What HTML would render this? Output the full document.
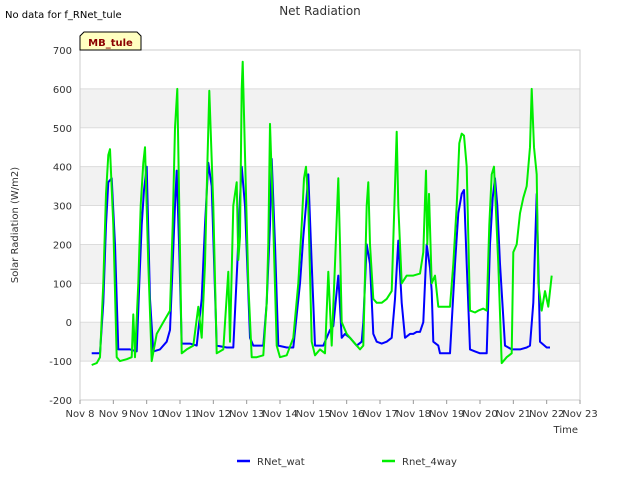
<!DOCTYPE html>
<html><head><meta charset="utf-8"><style>
body{margin:0;background:#fff;font-family:"DejaVu Sans",sans-serif;}
svg text{font-family:"DejaVu Sans",sans-serif;}
</style></head><body>
<svg id="c" width="640" height="480" xmlns="http://www.w3.org/2000/svg">
<rect width="640" height="480" fill="#fff"/>
<text x="5" y="18" font-size="10" fill="#000">No data for f_RNet_tule</text>
<text x="320" y="15" font-size="12" fill="#333" text-anchor="middle">Net Radiation</text>
<g id="plot"></g>
<text x="18" y="225" font-size="10" fill="#333" text-anchor="middle" transform="rotate(-90 18 225)">Solar Radiation (W/m2)</text>
<text x="578" y="433" font-size="10" fill="#333" text-anchor="end">Time</text>
<g>
<path d="M80,50 L80,36 L84,32 L137,32 L141,36 L141,50 Z" fill="#ffffc0" stroke="#000" stroke-width="1"/>
<text x="110.5" y="46" font-size="10" font-weight="bold" fill="#8b0000" text-anchor="middle">MB_tule</text>
</g>
<g>
<g><line x1="237" y1="461" x2="250" y2="461" stroke="#0000ff" stroke-width="2.5"/><text x="257" y="465" font-size="10" fill="#333">RNet_wat</text></g>
<g><line x1="382" y1="461" x2="395" y2="461" stroke="#00ee00" stroke-width="2.5"/><text x="402" y="465" font-size="10" fill="#333">Rnet_4way</text></g>
</g>
</svg>
<script>
const yTicks=[-200,-100,0,100,200,300,400,500,600,700];
const xTickLabels=["Nov 8","Nov 9","Nov 10","Nov 11","Nov 12","Nov 13","Nov 14","Nov 15","Nov 16","Nov 17","Nov 18","Nov 19","Nov 20","Nov 21","Nov 22","Nov 23"];
const watTimes=[8.35,8.45,8.6,8.7,8.78,8.85,8.95,9.05,9.15,9.3,9.5,9.7,9.78,9.85,9.92,10.0,10.1,10.2,10.4,10.6,10.7,10.78,10.85,10.9,10.98,11.05,11.3,11.5,11.65,11.75,11.85,11.95,12.1,12.4,12.6,12.72,12.8,12.85,12.95,13.1,13.2,13.5,13.6,13.7,13.75,13.85,13.95,14.2,14.4,14.6,14.7,14.78,14.85,14.95,15.05,15.3,15.5,15.6,15.7,15.75,15.85,15.95,16.1,16.3,16.45,16.5,16.6,16.7,16.8,16.9,17.05,17.2,17.35,17.45,17.55,17.65,17.75,17.9,18.0,18.1,18.2,18.3,18.4,18.5,18.55,18.6,18.75,18.8,19.0,19.1,19.25,19.35,19.45,19.52,19.6,19.7,19.85,20.0,20.1,20.2,20.3,20.38,20.45,20.52,20.6,20.75,20.95,21.2,21.4,21.5,21.6,21.7,21.75,21.8,22.0,22.1];
const watValues=[-80,-80,-80,50,250,360,370,200,-70,-70,-70,-75,100,250,340,400,60,-75,-70,-50,-20,150,300,390,180,-55,-55,-60,60,250,410,350,-60,-65,-65,150,320,400,300,-40,-60,-60,50,250,420,200,-60,-65,-65,100,220,300,380,150,-60,-60,-20,-10,80,120,-40,-30,-40,-60,-50,0,200,150,-30,-50,-55,-50,-40,60,210,50,-40,-30,-30,-25,-25,0,200,140,80,-50,-60,-80,-80,-80,150,280,330,340,150,-70,-75,-80,-80,-80,200,320,370,300,150,-60,-70,-70,-65,-60,50,330,150,-50,-65,-65,-65];
const fwTimes=[8.35,8.5,8.6,8.7,8.78,8.85,8.9,9.0,9.1,9.2,9.4,9.55,9.6,9.65,9.75,9.82,9.9,9.95,10.05,10.15,10.3,10.5,10.7,10.78,10.85,10.92,11.05,11.2,11.4,11.55,11.65,11.75,11.82,11.88,12.0,12.1,12.3,12.45,12.5,12.6,12.7,12.75,12.8,12.85,12.88,12.95,13.05,13.15,13.3,13.5,13.6,13.65,13.7,13.78,13.9,14.0,14.2,14.4,14.55,14.65,14.72,14.78,14.85,14.95,15.05,15.2,15.35,15.45,15.55,15.65,15.75,15.8,15.85,16.0,16.2,16.4,16.5,16.6,16.65,16.7,16.8,16.9,17.05,17.2,17.35,17.45,17.5,17.55,17.65,17.8,18.0,18.2,18.3,18.38,18.42,18.47,18.55,18.65,18.75,18.9,19.1,19.2,19.3,19.38,19.45,19.52,19.6,19.7,19.85,19.95,20.1,20.2,20.28,20.35,20.42,20.55,20.65,20.8,20.95,21.0,21.1,21.2,21.3,21.4,21.5,21.55,21.62,21.7,21.75,21.85,21.95,22.05,22.15];
const fwValues=[-110,-105,-90,100,330,430,445,250,-90,-100,-95,-90,20,-90,100,300,410,450,150,-100,-30,0,30,250,500,600,-80,-70,-60,40,-40,150,400,595,300,-80,-70,130,-50,300,360,160,220,600,670,430,100,-90,-90,-85,50,200,510,300,-60,-90,-85,-40,100,250,370,400,300,-50,-85,-70,-80,130,-60,150,370,200,0,-30,-50,-70,-60,300,360,200,60,50,50,60,80,350,490,300,100,120,120,125,180,390,200,330,100,120,40,40,40,150,300,460,485,480,400,30,25,30,35,30,250,380,400,150,-105,-90,-80,180,200,280,320,350,450,600,450,380,100,30,80,40,120];
const NS="http://www.w3.org/2000/svg";
const X0=80,X1=580,Y0=400,Y1=50;
function xs(d){return X0+(d-8)/15*(X1-X0);}
function ys(v){return Y0-(v+200)/900*(Y0-Y1);}
const g=document.getElementById('plot');
function mk(t,a){const e=document.createElementNS(NS,t);for(const k in a)e.setAttribute(k,a[k]);return e;}
for(let i=0;i<yTicks.length-1;i++){
  if(i%2===1){const r=mk('rect',{x:X0,y:ys(yTicks[i+1]),width:X1-X0,height:ys(yTicks[i])-ys(yTicks[i+1]),fill:'#f2f2f2'});
  
  
  g.appendChild(r);}
}
yTicks.forEach(v=>{
  const l=mk('line',{x1:X0,x2:X1,y1:ys(v),y2:ys(v),stroke:'#dcdcdc','stroke-width':1});
  
  
  g.appendChild(l);
  const t=mk('text',{x:X0-8,y:ys(v)+4,'font-size':10,fill:'#333','text-anchor':'end'});
  
  
  t.textContent=v;g.appendChild(t);
});
const fr=mk('rect',{x:X0,y:Y1,width:X1-X0,height:Y0-Y1,fill:'none',stroke:'#ccc','stroke-width':1});


g.appendChild(fr);
xTickLabels.forEach((s,i)=>{
  const x=xs(8+i);
  const tk=mk('line',{x1:x,x2:x,y1:Y0,y2:Y0+4,stroke:'#999'});
  
  
  g.appendChild(tk);
  const t=mk('text',{x:x,y:Y0+17,'font-size':10,fill:'#333','text-anchor':'middle'});
  
  
  t.textContent=s;g.appendChild(t);
});
function series(ts,vs,col,name){
  const p=mk('polyline',{points:ts.map((t,i)=>xs(t).toFixed(1)+','+ys(vs[i]).toFixed(1)).join(' '),fill:'none',stroke:col,'stroke-width':2,'stroke-linejoin':'round'});
  
  
  g.appendChild(p);
}
series(watTimes,watValues,'#0000ff','rnet-wat-line');
series(fwTimes,fwValues,'#00ee00','rnet-4way-line');
</script>
</body></html>
